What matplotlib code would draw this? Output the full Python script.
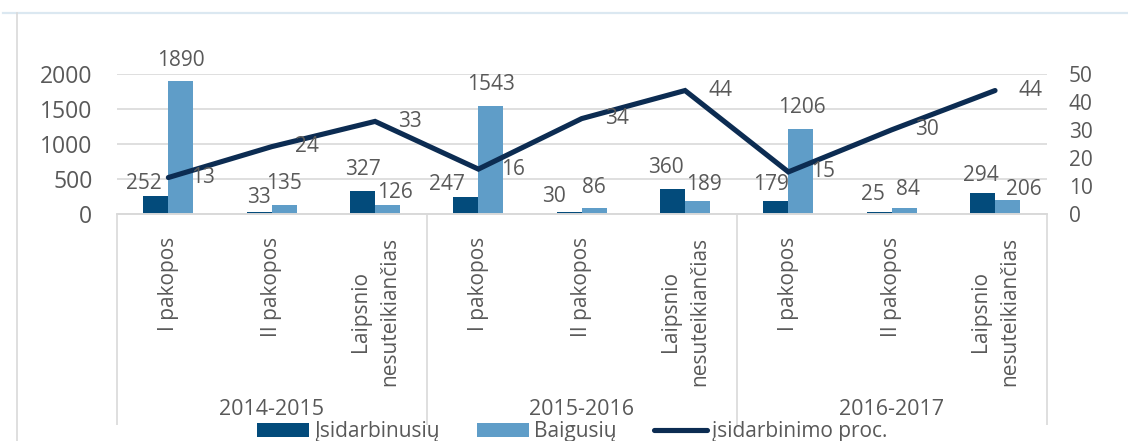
import numpy as np
import matplotlib
matplotlib.use("Agg")
import matplotlib.pyplot as plt
from matplotlib.lines import Line2D

plt.rcParams['font.family'] = ['Open Sans', 'DejaVu Sans']

# data
years = ['2014-2015', '2015-2016', '2016-2017']
levels = ['I pakopos', 'II pakopos', 'Laipsnio\nnesuteikiančias']
employed = [252, 33, 327, 247, 30, 360, 179, 25, 294]
graduated = [1890, 135, 126, 1543, 86, 189, 1206, 84, 206]
employment_pct = [13, 24, 33, 16, 34, 44, 15, 30, 44]

# label nudges in pixels (dx, gap above bar top)
emp_nudge = [(-12, 7), (0, 9), (0, 16), (-19, 7), (-15, 10), (-7, 16), (-5, 11), (-6, 12), (-2, 12)]
grad_nudge = [(0, 15), (0, 16), (7, 7), (0, 16), (0, 15), (6, 11), (1, 16), (4, 13), (16, 5)]

DARK = '#034b7b'
LIGHT = '#5f9dc8'
LINE = '#0c2c52'
TXT = '#595959'
GRID = '#d9d9d9'

fig = plt.figure(figsize=(11.28, 4.41), dpi=100)
ax = fig.add_axes([116.7 / 1128, 1 - 214 / 441, 930 / 1128, 140.3 / 441])
ax2 = ax.twinx()

x = np.arange(len(employed))
w = 0.242
b1 = ax.bar(x - w / 2, employed, w, color=DARK, label='Įsidarbinusių')
b2 = ax.bar(x + w / 2, graduated, w, color=LIGHT, label='Baigusių')
ln, = ax2.plot(x, employment_pct, color=LINE, lw=3.7, solid_joinstyle='miter',
               solid_capstyle='round', label='įsidarbinimo proc.')

ax.set_xlim(-0.5, len(x) - 0.5)
ax.set_ylim(0, 2000)
ax2.set_ylim(0, 50)
ax.set_yticks(range(0, 2001, 500))
ax2.set_yticks(range(0, 51, 10))
ax.set_axisbelow(True)
ax.yaxis.grid(True, color=GRID, lw=1.2)
ax.set_xticks([])
for a in (ax, ax2):
    for s in ('top', 'left', 'right'):
        a.spines[s].set_visible(False)
    a.spines['bottom'].set_color(GRID)
    a.spines['bottom'].set_linewidth(1.2)
ax.tick_params(axis='y', length=0, pad=17.5, labelsize=16.5, labelcolor=TXT)
ax2.tick_params(axis='y', length=0, pad=16, labelsize=15, labelcolor=TXT)

# value labels
for i, v in enumerate(employed):
    dx, dy = emp_nudge[i]
    ax.annotate(str(v), (x[i] - w / 2, v), xytext=(dx, dy), textcoords='offset pixels',
                ha='center', va='baseline', fontsize=15, color=TXT)
for i, v in enumerate(graduated):
    dx, dy = grad_nudge[i]
    ax.annotate(str(v), (x[i] + w / 2, v), xytext=(dx, dy), textcoords='offset pixels',
                ha='center', va='baseline', fontsize=15, color=TXT)
for i, v in enumerate(employment_pct):
    ax2.annotate(str(v), (x[i], v), xytext=(23, -5.5), textcoords='offset pixels',
                 ha='left', va='baseline', fontsize=15, color=TXT)

# multi-level category axis
xt = ax.get_xaxis_transform()
for gi, yr in enumerate(years):
    for li, lev in enumerate(levels):
        ax.text(gi * len(levels) + li, -0.16, lev, transform=xt, rotation=90,
                ha='center', va='top', multialignment='center', fontsize=15,
                color=TXT, linespacing=1.5)
    ax.text(gi * len(levels) + 1, -1.397, yr, transform=xt, ha='center', va='center',
            fontsize=15.5, color=TXT)
seps = np.arange(len(years) + 1) * len(levels) - 0.5
ax.vlines(seps, -1.504, 0, transform=xt, colors=GRID, lw=1.2, clip_on=False)

# legend
fig.legend(handles=[b1, b2, ln], loc='center', bbox_to_anchor=(572 / 1128, 1 - 432 / 441),
           ncol=3, frameon=False, fontsize=15, labelcolor=TXT, handlelength=2.5,
           handleheight=0.65, handletextpad=0.25, columnspacing=1.8,
           borderpad=0, borderaxespad=0)

# outer frame bits
fig.add_artist(Line2D([3 / 1128, 1], [1 - 12.5 / 441] * 2, color='#dbe8f1', lw=1.6))
fig.add_artist(Line2D([17 / 1128] * 2, [0, 1 - 13 / 441], color=GRID, lw=1.2))

fig.savefig('out.png', dpi=100)
